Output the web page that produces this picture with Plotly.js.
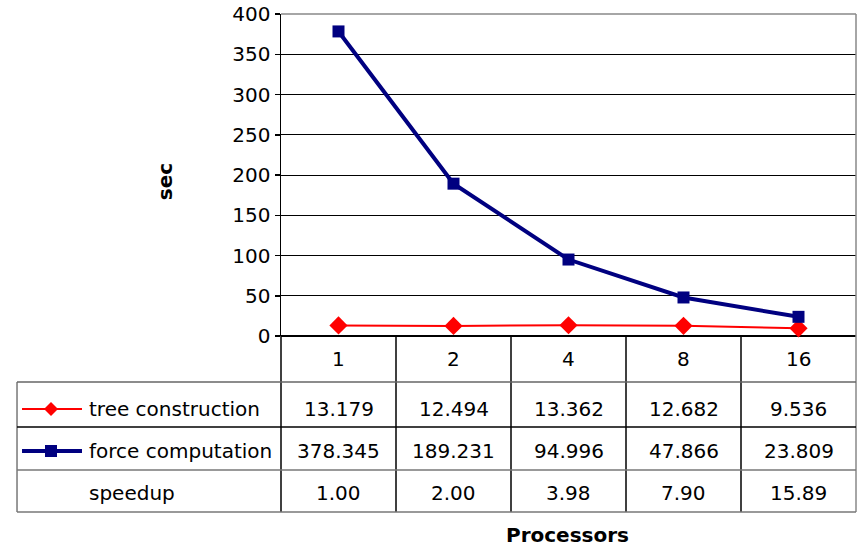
<!DOCTYPE html>
<html><head><meta charset="utf-8">
<script src="https://cdn.plot.ly/plotly-3.0.1.min.js"></script>
<style>html,body{margin:0;padding:0;background:#fff}#chart{width:857px;height:546px}</style>
</head><body><div id="chart"></div>
<script>
var processors = ['1','2','4','8','16'];
var treeConstruction = [13.179, 12.494, 13.362, 12.682, 9.536];
var forceComputation = [378.345, 189.231, 94.996, 47.866, 23.809];
var speedup = ['1.00','2.00','3.98','7.90','15.89'];
var treeLabels = ['13.179','12.494','13.362','12.682','9.536'];
var forceLabels = ['378.345','189.231','94.996','47.866','23.809'];
var seriesNames = ['tree construction','force computation','speedup'];

var FONT = 'DejaVu Sans, Arial, sans-serif';
var FS = 20;
var idx = processors.map(function(_, i){ return i; });

var traces = [
  {x: idx, y: treeConstruction, type:'scatter', mode:'lines+markers', name: seriesNames[0],
   line:{color:'#ff0000', width:2}, marker:{symbol:'diamond', size:14, color:'#ff0000'}, cliponaxis:false},
  {x: idx, y: forceComputation, type:'scatter', mode:'lines+markers', name: seriesNames[1],
   line:{color:'#000080', width:4}, marker:{symbol:'square', size:12, color:'#000080'}, cliponaxis:false}
];

// table geometry in paper coords (plot area: x 281..856, y 14..336)
var yHdr = -0.1429, yRow1 = -0.2826, yRow2 = -0.4161, yRow3 = -0.5466, xLeft = -0.4591;
var shapes = [];
function hline(y, x0, x1, color){ shapes.push({type:'line', xref:'paper', yref:'paper', x0:x0, x1:x1, y0:y, y1:y, line:{color:color, width:1.5}}); }
function vline(xr, x, y0, y1, color){ shapes.push({type:'line', xref:xr, yref:'paper', x0:x, x1:x, y0:y0, y1:y1, line:{color:color, width:1.5}}); }

hline(1, 0, 1, '#888888');
vline('paper', 1, yRow3, 1, '#888888');
for (var i = 0; i < processors.length - 1; i++) vline('x', i + 0.5, yRow3, 0, '#000000');
vline('paper', 0, yRow3, 0, '#000000');
vline('paper', xLeft, yRow3, yHdr, '#777777');
hline(yHdr, xLeft, 1, '#666666');
hline(yRow1, xLeft, 1, '#000000');
hline(yRow2, xLeft, 1, '#777777');
hline(yRow3, xLeft, 1, '#777777');

// legend keys
var keyX0 = -0.4504, keyX1 = -0.3461, keyMid = -0.4;
var yT = -0.2267, yF = -0.3571, yS = -0.4876;
shapes.push({type:'line', xref:'paper', yref:'paper', x0:keyX0, x1:keyX1, y0:yT, y1:yT, line:{color:'#ff0000', width:2}});
shapes.push({type:'path', xref:'paper', yref:'paper', xsizemode:'pixel', ysizemode:'pixel', xanchor:keyMid, yanchor:yT,
  path:'M -7 0 L 0 7 L 7 0 L 0 -7 Z', fillcolor:'#ff0000', line:{color:'#ff0000', width:0}});
shapes.push({type:'line', xref:'paper', yref:'paper', x0:keyX0, x1:keyX1, y0:yF, y1:yF, line:{color:'#000080', width:4}});
shapes.push({type:'path', xref:'paper', yref:'paper', xsizemode:'pixel', ysizemode:'pixel', xanchor:keyMid, yanchor:yF,
  path:'M -6 -6 L 6 -6 L 6 6 L -6 6 Z', fillcolor:'#000080', line:{color:'#000080', width:0}});

var annotations = [];
function txt(x, xr, y, s, anchor){ annotations.push({x:x, xref:xr, y:y, yref:'paper', text:s, showarrow:false, xanchor:anchor||'center', yanchor:'middle', font:{family:FONT, size:FS, color:'#000'}}); }
for (var j = 0; j < processors.length; j++) {
  txt(j, 'x', -0.0714, processors[j]);
  txt(j, 'x', yT, treeLabels[j]);
  txt(j, 'x', yF, forceLabels[j]);
  txt(j, 'x', yS, speedup[j]);
}
var xText = -0.3374;
txt(xText, 'paper', yT, seriesNames[0], 'left');
txt(xText, 'paper', yF, seriesNames[1], 'left');
txt(xText, 'paper', yS, seriesNames[2], 'left');

annotations.push({x:-0.2026, xref:'paper', y:0.479, yref:'paper', text:'<b>sec</b>', textangle:-90, showarrow:false,
  xanchor:'center', yanchor:'middle', font:{family:FONT, size:FS, color:'#000'}});
annotations.push({x:0.4991, xref:'paper', y:-0.6195, yref:'paper', text:'<b>Processors</b>', showarrow:false,
  xanchor:'center', yanchor:'middle', font:{family:FONT, size:FS, color:'#000'}});

var layout = {
  width:857, height:546,
  margin:{l:281, r:1, t:14, b:210, pad:0},
  paper_bgcolor:'#ffffff', plot_bgcolor:'#ffffff',
  showlegend:false,
  xaxis:{range:[-0.5, 4.5], showticklabels:false, ticks:'', showgrid:false, zeroline:false, showline:false, fixedrange:true},
  yaxis:{range:[0, 400], dtick:50, ticks:'outside', ticklen:5, tickcolor:'#000', tickwidth:1.5,
    showline:true, linecolor:'#000', linewidth:1.5, showgrid:true, gridcolor:'#000', gridwidth:1,
    zeroline:true, zerolinecolor:'#000', zerolinewidth:1.5,
    tickfont:{family:FONT, size:FS, color:'#000'}},
  shapes:shapes,
  annotations:annotations
};
Plotly.newPlot('chart', traces, layout, {displayModeBar:false, staticPlot:true});
</script></body></html>
